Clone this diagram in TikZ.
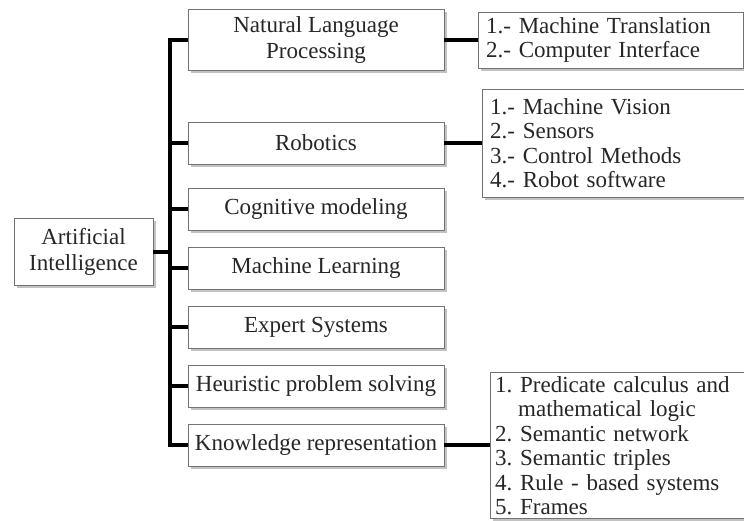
\documentclass[tikz,border=0pt]{standalone}
\usepackage{fontspec}
\setmainfont{Liberation Serif}
\usepackage{tikz}
\usetikzlibrary{calc,positioning,shadows}
\frenchspacing
\tikzset{
node distance=59pt, % vertical step between the topic boxes
box/.style={draw=black!55, fill=white, text=black!85,
  drop shadow={shadow xshift=2.5pt, shadow yshift=-2.5pt, fill=black!40, opacity=.6}},
topic/.style={box, minimum width=256pt, minimum height=42pt, inner sep=2pt,
  align=center, font=\fontsize{23}{26}\selectfont},
list/.style={box, anchor=west, align=left, inner xsep=8pt, inner ysep=1pt,
  font=\fontsize{23}{24.5}\selectfont},
link/.style={line width=4pt},
}

\begin{document}
\begin{tikzpicture}[x=1pt,y=1pt,on grid]
   \useasboundingbox (0,0) rectangle (744,-520);
   \node[box, minimum width=139pt, minimum height=67pt, align=center,
         font=\fontsize{23}{26}\selectfont] (ai) at (83.5,-251.5) {Artificial\\Intelligence};
   \node[topic, minimum height=61pt] (t_1) at (316,-39.5) {Natural Language\\Processing};
   \node[topic] (t_2) at (316,-143) {Robotics};
   \node[topic] (t_3) [below=66pt of t_2] {Cognitive modeling};
   \node[topic] (t_4) [below=of t_3] {Machine Learning};
   \node[topic] (t_5) [below=of t_4] {Expert Systems};
   \node[topic] (t_6) [below=of t_5] {Heuristic problem solving};
   \node[topic] (t_7) [below=of t_6] {Knowledge representation};
   \node[list, text width=249pt, minimum height=56pt] (l_1) at (478,-40)
      {1.- Machine Translation\\2.- Computer Interface};
   \node[list, text width=246pt, minimum height=108pt] (l_2) at (482,-143)
      {1.- Machine Vision\\2.- Sensors\\3.- Control Methods\\4.- Robot software};
   \node[list, inner xsep=5pt, text width=244pt, minimum height=146pt] (l_3) at (490,-445.5)
      {1. Predicate calculus and\\\hspace*{1em}mathematical logic\\2. Semantic network\\
       3. Semantic triples\\4. Rule - based systems\\5. Frames};
   \coordinate (b) at (170,-251.5);
   \draw[link] (t_1.west) -| (b) |- (t_7.west);
    \path[link]
    (ai) edge (b)
    (t_2.west) edge (t_2.west -| b)
    (t_3.west) edge (t_3.west -| b)
    (t_4.west) edge (t_4.west -| b)
    (t_5.west) edge (t_5.west -| b)
    (t_6.west) edge (t_6.west -| b)
    (t_1.east) edge (t_1.east -| l_1.west)
    (t_2.east) edge (t_2.east -| l_2.west)
    (t_7.east) edge (t_7.east -| l_3.west);
\end{tikzpicture}
\end{document}
